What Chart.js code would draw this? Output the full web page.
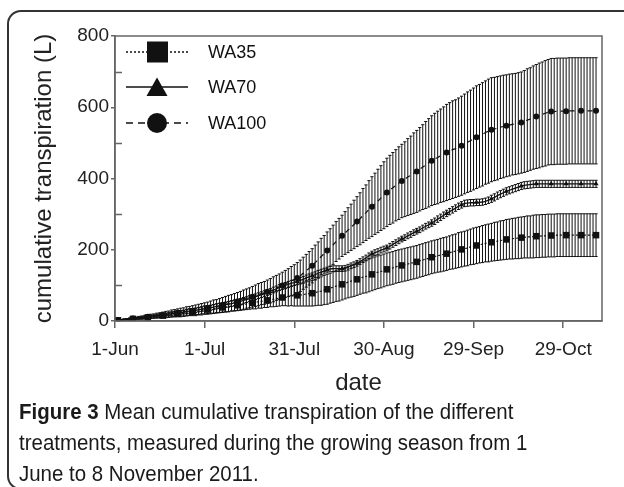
<!DOCTYPE html>
<html>
<head>
<meta charset="utf-8">
<script src="https://cdn.jsdelivr.net/npm/chart.js@4.4.1/dist/chart.umd.min.js"></script>
<style>
  body { margin: 0; background: #fff; }
  #wrap { position: relative; width: 624px; height: 487px; overflow: hidden; }
  #frame {
    position: absolute; left: 7px; top: 10px; width: 632px; height: 480px;
    border: 2px solid #333; border-radius: 14px; box-sizing: border-box;
  }
  #caption {
    position: absolute; left: 19px; top: 396px; width: 640px;
    font-family: "Liberation Sans", Arial, sans-serif;
    font-size: 22px; line-height: 31px; color: #1a1a1a; white-space: nowrap;
    transform: scaleX(0.93); transform-origin: 0 0;
  }
  #caption b { font-weight: bold; }
  canvas { position: absolute; left: 0; top: 0; }
</style>
</head>
<body>
<div id="wrap">
  <div id="frame"></div>
  <canvas id="chart" width="624" height="487"></canvas>
  <div id="caption"><b>Figure 3</b> Mean cumulative transpiration of the different<br>treatments, measured during the growing season from 1<br>June to 8 November 2011.</div>
</div>
<script>
// DATA (one value per day, starting 2 June)
const seriesNames = ["WA35", "WA70", "WA100"];
const tickDays = [0, 30, 60, 90, 120, 150];
const tickLabels = ["1-Jun", "1-Jul", "31-Jul", "30-Aug", "29-Sep", "29-Oct"];

const wa35 = [
  2,3,4,5,5, 6,7,8,8,9, 10,11,12,13,14, 15,16,17,18,19,
  20,21,22,24,25, 26,27,28,30,31, 32,33,34,36,37, 38,39,40,42,43,
  44,45,47,48,50, 51,52,54,55,57, 58,60,61,63,64, 66,67,68,70,71,
  72,73,74,76,77, 78,80,82,84,87, 89,92,95,98,100, 103,106,109,112,114,
  117,120,123,125,128, 131,134,137,139,142, 145,147,149,152,154, 156,158,160,162,164,
  166,169,171,174,176, 179,181,183,185,187, 189,192,194,196,199, 201,203,205,208,210,
  212,214,216,218,219, 221,223,224,226,227, 229,230,231,232,233, 234,235,236,236,237,
  238,238,239,239,240, 240,240,241,241,241, 241,241,241,241,241, 241,241,241,241,241,
  241
];
const wa35Err = [
  1,1,1,2,2, 2,2,3,3,3, 3,4,4,4,5, 5,5,6,6,7,
  7,7,8,8,9, 9,9,10,10,11, 11,11,12,12,13, 13,13,14,14,15,
  15,15,16,16,17, 17,18,18,19,19, 20,20,21,22,22, 23,24,26,27,29,
  30,31,32,34,35, 36,37,38,40,41, 42,42,43,43,44, 44,44,44,45,45,
  45,45,45,46,46, 46,46,46,46,46, 46,46,46,46,46, 46,46,46,46,46,
  46,46,46,46,46, 46,46,46,47,47, 47,47,48,48,49, 49,49,50,50,51,
  51,51,52,52,53, 53,54,54,55,55, 56,56,57,57,58, 58,58,59,59,60,
  60,60,60,60,60, 60,60,60,60,60, 60,60,60,60,60, 60,60,60,60,60,
  60
];
const wa70 = [
  2,3,4,5,6, 7,8,9,10,11, 12,13,14,15,16, 17,18,19,21,22,
  23,24,25,27,28, 29,30,32,33,35, 36,37,39,41,42, 44,46,47,49,51,
  53,55,58,60,63, 65,68,71,74,77, 80,83,87,90,94, 97,100,103,106,108,
  111,114,117,121,124, 127,130,134,137,140, 143,146,147,147,147, 147,148,151,155,158,
  162,167,172,177,183, 188,192,195,199,202, 205,210,215,220,225, 230,234,239,243,248,
  252,256,261,266,270, 275,280,286,291,297, 302,307,312,317,322, 326,330,331,332,332,
  333,333,334,336,339, 343,347,352,356,360, 364,367,370,373,376, 379,381,382,383,384,
  385,385,385,385,385, 385,385,385,385,385, 385,385,385,385,385, 385,385,385,385,385,
  385
];
const wa70Err = [
  1,1,1,1,2, 2,2,2,3,3, 3,3,3,4,4, 4,4,4,5,5,
  5,5,5,6,6, 6,6,6,6,7, 7,7,7,7,7, 7,7,8,8,8,
  8,8,8,8,8, 8,8,8,8,8, 8,8,8,8,8, 8,8,8,8,8,
  8,8,8,8,8, 8,8,8,8,8, 8,8,8,8,8, 8,8,8,8,8,
  8,8,8,8,8, 8,8,8,8,8, 8,8,8,8,8, 8,8,8,8,8,
  8,8,8,8,8, 9,9,9,9,9, 9,9,9,9,9, 9,9,9,9,9,
  9,9,9,9,9, 10,10,10,10,10, 10,10,10,10,10, 10,10,10,10,10,
  10,10,10,10,10, 10,10,10,10,10, 10,10,10,10,10, 10,10,10,10,10,
  10
];
const wa100 = [
  2,3,4,5,6, 7,8,9,10,11, 12,13,14,15,16, 17,18,19,21,22,
  23,24,25,27,28, 29,30,32,33,35, 36,38,40,41,43, 45,47,49,51,53,
  55,57,60,63,65, 68,71,74,77,79, 82,85,89,93,96, 100,104,108,112,116,
  121,127,134,141,148, 155,164,172,181,189, 198,206,214,223,231, 239,247,255,263,271,
  279,287,296,304,313, 321,329,337,345,353, 361,368,374,381,387, 393,398,404,409,415,
  420,426,432,438,444, 450,455,459,464,468, 473,477,481,484,488, 492,497,502,506,511,
  516,520,524,529,533, 537,539,541,544,546, 548,550,552,553,555, 557,560,564,567,571,
  574,577,580,583,586, 588,588,589,589,589, 589,590,590,590,590, 590,590,590,590,590,
  590
];
const wa100Err = [
  1,1,2,2,3, 3,3,4,4,5, 5,6,6,7,7, 8,9,9,10,10,
  11,12,12,13,13, 14,15,15,16,16, 17,18,19,19,20, 21,22,23,23,24,
  25,26,27,27,28, 29,30,31,31,32, 33,34,35,35,36, 37,38,39,41,42,
  43,44,45,46,47, 48,49,50,51,51, 52,53,55,56,57, 58,60,63,65,68,
  70,73,76,78,81, 84,86,89,91,94, 96,97,99,100,102, 103,105,108,110,113,
  115,117,119,122,124, 126,128,130,131,133, 135,136,137,137,138, 139,140,141,142,143,
  144,144,145,145,146, 146,145,145,144,144, 143,143,142,142,142, 142,143,144,144,145,
  146,147,147,148,148, 149,149,149,149,149, 149,149,149,149,149, 149,149,149,149,149,
  149
];

const FONT = "'Liberation Sans', Arial, Helvetica, sans-serif";
Chart.defaults.font.family = FONT;
Chart.defaults.color = "#222";

function points(values) {
  return values.map((v, i) => ({ x: i + 1, y: v }));
}

// marker every 5th day
function every5(r) {
  return ctx => (ctx.dataIndex % 5 === 0 ? r : 0);
}

// ERROR BARS
const errorBars = {
  id: "errorBars",
  beforeDatasetsDraw(chart) {
    const { ctx, scales: { x, y } } = chart;
    ctx.save();
    ctx.strokeStyle = "#111";
    ctx.lineWidth = 1;
    chart.data.datasets.forEach(ds => {
      ds.data.forEach((p, i) => {
        const e = ds.errors[i];
        const px = x.getPixelForValue(p.x);
        const top = y.getPixelForValue(p.y + e);
        const bot = y.getPixelForValue(p.y - e);
        ctx.beginPath();
        ctx.moveTo(px, top); ctx.lineTo(px, bot);
        ctx.moveTo(px - 1.6, top); ctx.lineTo(px + 1.6, top);
        ctx.moveTo(px - 1.6, bot); ctx.lineTo(px + 1.6, bot);
        ctx.stroke();
      });
    });
    ctx.restore();
  }
};

// BOX, MINOR TICKS, LEGEND
const extras = {
  id: "extras",
  afterDraw(chart) {
    const { ctx, chartArea: a, scales: { y } } = chart;
    ctx.save();
    ctx.strokeStyle = "#666";
    ctx.lineWidth = 1.5;
    ctx.strokeRect(a.left, a.top, a.right - a.left, a.bottom - a.top);

    ctx.beginPath();
    [100, 300, 500, 700].forEach(v => {
      const py = Math.round(y.getPixelForValue(v)) + 0.5;
      ctx.moveTo(a.left, py); ctx.lineTo(a.left + 7, py);
    });
    ctx.stroke();

    // legend
    const rows = [52, 87, 123];
    const dashes = [[2, 2], [], [7, 5]];
    ctx.fillStyle = "#111";
    ctx.strokeStyle = "#111";
    rows.forEach((ry, i) => {
      ctx.lineWidth = i === 1 ? 1.6 : 1.3;
      ctx.setLineDash(dashes[i]);
      ctx.beginPath();
      ctx.moveTo(126, ry); ctx.lineTo(188, ry);
      ctx.stroke();
      ctx.setLineDash([]);
      ctx.beginPath();
      if (i === 0) {
        ctx.rect(147, ry - 10.5, 21, 21);
      } else if (i === 1) {
        ctx.moveTo(157, ry - 9.5);
        ctx.lineTo(167.5, ry + 9);
        ctx.lineTo(146.5, ry + 9);
        ctx.closePath();
      } else {
        ctx.arc(157, ry, 10, 0, Math.PI * 2);
      }
      ctx.fill();
      ctx.font = "18px " + FONT;
      ctx.textBaseline = "middle";
      ctx.fillText(seriesNames[i], 208, ry + 1);
    });
    ctx.restore();
  }
};

const ctx = document.getElementById("chart").getContext("2d");

new Chart(ctx, {
  type: "line",
  data: {
    datasets: [
      {
        label: seriesNames[0], data: points(wa35), errors: wa35Err,
        borderColor: "#111", backgroundColor: "#111", borderWidth: 1.2,
        borderDash: [2, 2], pointStyle: "rect", pointRadius: every5(4.6),
        pointBorderWidth: 0
      },
      {
        label: seriesNames[1], data: points(wa70), errors: wa70Err,
        borderColor: "#111", backgroundColor: "#111", borderWidth: 1.3,
        pointStyle: "triangle", pointRadius: every5(3), pointBorderWidth: 0
      },
      {
        label: seriesNames[2], data: points(wa100), errors: wa100Err,
        borderColor: "#111", backgroundColor: "#111", borderWidth: 1.2,
        borderDash: [5, 4], pointStyle: "circle", pointRadius: every5(3),
        pointBorderWidth: 0
      }
    ]
  },
  options: {
    responsive: false,
    animation: false,
    devicePixelRatio: 1,
    layout: { padding: { left: 0, right: 22, top: 36, bottom: 86 } },
    plugins: { legend: { display: false }, tooltip: { enabled: false } },
    scales: {
      x: {
        type: "linear", min: 0, max: 163,
        afterBuildTicks: s => { s.ticks = tickDays.map(v => ({ value: v })); },
        afterFit: s => { s.height = 80; },
        ticks: {
          callback: (v, i) => tickLabels[i],
          font: { size: 19 }, color: "#222", padding: 10,
          maxRotation: 0, autoSkip: false
        },
        grid: { drawOnChartArea: false, tickLength: 7, color: "#666", lineWidth: 1.5 },
        border: { color: "#666", width: 1.5 },
        title: { display: true, text: "date", font: { size: 24 }, color: "#222", padding: { top: 0, bottom: 3 } }
      },
      y: {
        min: 0, max: 800,
        afterFit: s => { s.width = 115; },
        ticks: { stepSize: 200, font: { size: 19 }, color: "#222", padding: 2 },
        grid: { drawOnChartArea: false, tickLength: 4, color: "#666", lineWidth: 1.5 },
        border: { color: "#666", width: 1.5 },
        title: {
          display: true, text: "cumulative transpiration (L)",
          font: { size: 24 }, color: "#222", padding: { top: 30, bottom: 0 }
        }
      }
    }
  },
  plugins: [errorBars, extras]
});
</script>
</body>
</html>
